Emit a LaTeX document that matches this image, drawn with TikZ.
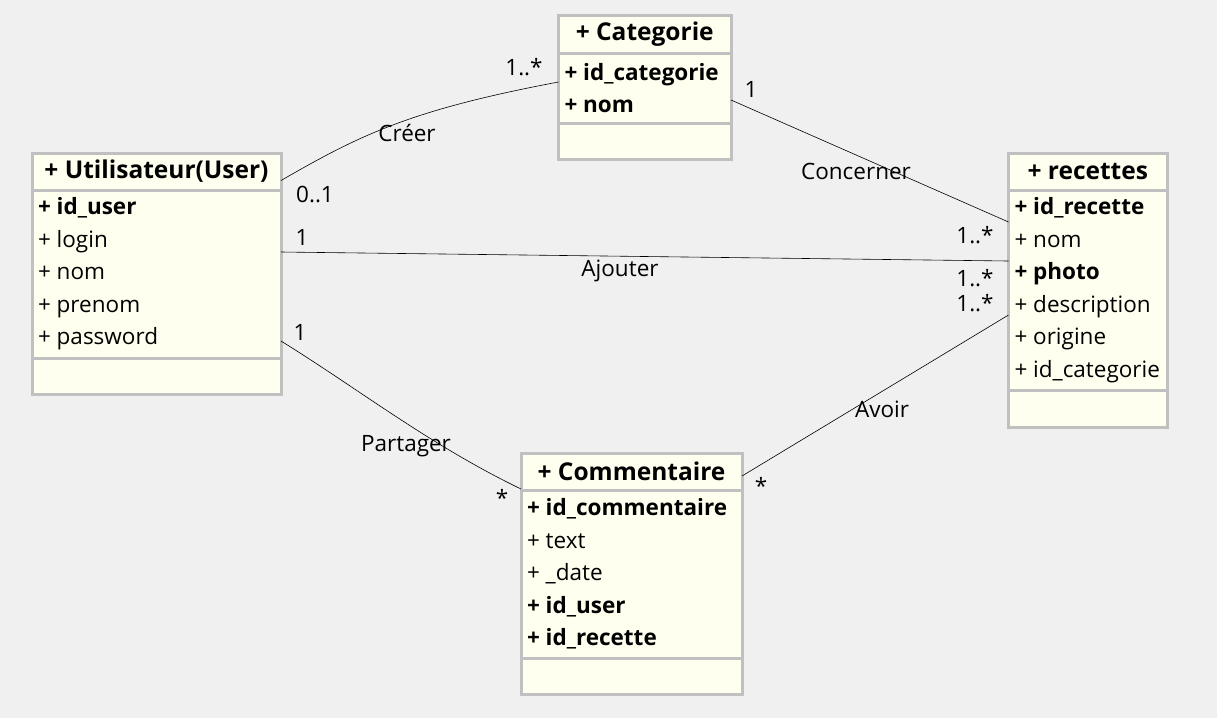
\documentclass[tikz,border=0pt]{standalone}
\usepackage{fontspec}
\setmainfont{Open Sans}
\usepackage{xcolor}
\usetikzlibrary{positioning}

\definecolor{bggray}{HTML}{F0F0F0}
\definecolor{classfill}{HTML}{FFFFF0}
\definecolor{boxgray}{HTML}{C0C0C0}

\tikzset{
  classpart/.style={draw=boxgray, line width=3pt, fill=classfill, inner sep=0pt, outer sep=0pt},
  classhead/.style={classpart, anchor=north, font=\bfseries\fontsize{24.5}{27}\selectfont},
  classattr/.style={classpart, inner xsep=6pt, align=flush left, font=\fontsize{22.5}{32.5}\selectfont},
  classops/.style={classpart},
  assoc/.style={draw=black, line width=0.6pt},
  lbl/.style={font=\fontsize{22.5}{25}\selectfont, inner sep=0pt}
}

\begin{document}
\begin{tikzpicture}[x=1pt, y=-1pt]
    \fill[bggray] (0,0) rectangle (1217,718);
    \useasboundingbox (0,0) rectangle (1217,718);

    % Utilisateur
    \node[classhead, minimum width=249pt, minimum height=37pt] at (156.5,153) (user_head) {+ Utilisateur(User)};
    \node[classattr, text width=237pt, minimum height=168pt, below=0pt of user_head] (user_attr)
      {\textbf{+~id\_user}\\+~login\\+~nom\\+~prenom\\+~password};
    \node[classops, minimum width=249pt, minimum height=36pt, below=0pt of user_attr] (user_ops) {};

    % Categorie
    \node[classhead, minimum width=172.5pt, minimum height=38pt] at (644.75,15) (cat_head) {+ Categorie};
    \node[classattr, text width=160.5pt, minimum height=70pt, below=0pt of cat_head] (cat_attr)
      {\textbf{+~id\_categorie}\\\textbf{+~nom}};
    \node[classops, minimum width=172.5pt, minimum height=36pt, below=0pt of cat_attr] (cat_ops) {};

    % recettes
    \node[classhead, minimum width=158.5pt, minimum height=37pt] at (1087.75,153) (rec_head) {+ recettes};
    \node[classattr, text width=146.5pt, minimum height=200pt, below=0pt of rec_head] (rec_attr)
      {\textbf{+~id\_recette}\\+~nom\\\textbf{+~photo}\\+~description\\+~origine\\+~id\_categorie};
    \node[classops, minimum width=158.5pt, minimum height=37pt, below=0pt of rec_attr] (rec_ops) {};

    % Commentaire
    \node[classhead, minimum width=221pt, minimum height=37pt] at (631.5,453) (com_head) {+ Commentaire};
    \node[classattr, text width=209pt, minimum height=168pt, below=0pt of com_head] (com_attr)
      {\textbf{+~id\_commentaire}\\+~text\\+~\_date\\\textbf{+~id\_user}\\\textbf{+~id\_recette}};
    \node[classops, minimum width=221pt, minimum height=36pt, below=0pt of com_attr] (com_ops) {};

    % associations
    \draw[assoc] ([yshift=-9pt]user_head.east) .. controls (360,135) and (410,110) .. ([yshift=6pt]cat_attr.west);
    \draw[assoc] ([yshift=-12pt]cat_attr.east) -- ([yshift=68pt]rec_attr.west);
    \draw[assoc] ([yshift=22pt]user_attr.east) -- ([yshift=29pt]rec_attr.west);
    \draw[assoc] ([yshift=-25pt]rec_attr.west) -- ([yshift=-4.5pt]com_head.east);
    \draw[assoc] ([yshift=-67pt]user_attr.east) .. controls (360,390) and (430,445) .. ([yshift=1pt]com_head.south west);

    % labels
    \node[lbl] at (407,133) (creer) {Créer};
    \node[lbl] at (315,194) (creer_a) {0..1};
    \node[lbl] at (524,67) (creer_b) {1..*};
    \node[lbl] at (856,171) (concerner) {Concerner};
    \node[lbl] at (751,89) (concerner_a) {1};
    \node[lbl] at (975,235) (concerner_b) {1..*};
    \node[lbl] at (620,271) (ajouter) {Ajouter};
    \node[lbl] at (302,237) (ajouter_a) {1};
    \node[lbl] at (975,278) (ajouter_b) {1..*};
    \node[lbl] at (975,303) (avoir_a) {1..*};
    \node[lbl] at (882,409) (avoir) {Avoir};
    \node[lbl] at (761,486) (avoir_b) {*};
    \node[lbl] at (406,446) (partager) {Partager};
    \node[lbl] at (300,332) (partager_a) {1};
    \node[lbl] at (502,498) (partager_b) {*};
  \end{tikzpicture}
\end{document}
